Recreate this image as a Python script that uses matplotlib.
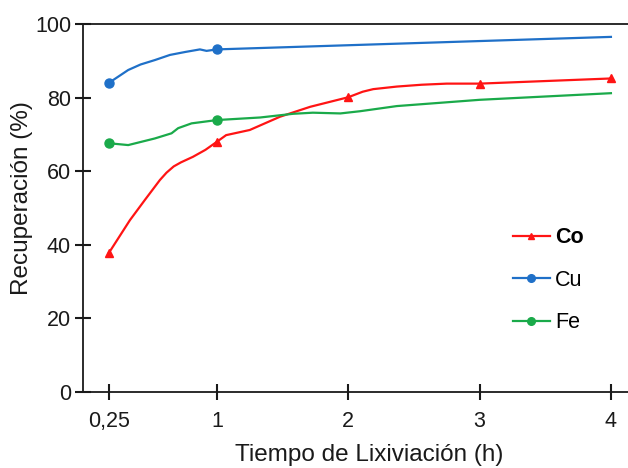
import numpy as np
import matplotlib
matplotlib.use("Agg")
import matplotlib.pyplot as plt

plt.rcParams['font.family'] = ['Liberation Sans', 'DejaVu Sans']

# leaching time (h) and recovery (%)
co_x = [0.25, 0.396, 0.5, 0.604, 0.65, 0.70, 0.75, 0.833, 0.92, 1.0, 1.07, 1.25, 1.48, 1.71,
        2.0, 2.11, 2.19, 2.37, 2.56, 2.75, 3.0, 4.0]
co_y = [37.8, 46.7, 52.2, 57.6, 59.6, 61.3, 62.4, 63.9, 65.8, 68.0, 69.8, 71.2, 74.8, 77.5,
        80.1, 81.6, 82.3, 83.0, 83.5, 83.8, 83.8, 85.2]
co_pts_x = [0.25, 1, 2, 3, 4]
co_pts_y = [37.8, 68.0, 80.1, 83.8, 85.2]

cu_x = [0.25, 0.384, 0.47, 0.569, 0.674, 0.78, 0.882, 0.928, 1.0, 4.0]
cu_y = [84.0, 87.5, 89.0, 90.2, 91.6, 92.4, 93.1, 92.7, 93.1, 96.5]
cu_pts_x = [0.25, 1]
cu_pts_y = [84.0, 93.1]

fe_x = [0.25, 0.384, 0.569, 0.685, 0.731, 0.824, 1.0, 1.33, 1.58, 1.73, 1.94, 2.09,
        2.37, 3.0, 4.0]
fe_y = [67.6, 67.1, 68.9, 70.3, 71.7, 73.0, 73.9, 74.6, 75.6, 75.9, 75.7, 76.3,
        77.7, 79.4, 81.2]
fe_pts_x = [0.25, 1]
fe_pts_y = [67.6, 73.9]

x_ticks = [0.25, 1, 2, 3, 4]
x_ticklabels = ["0,25", "1", "2", "3", "4"]
y_ticks = [0, 20, 40, 60, 80, 100]

RED = "#ff1414"
BLUE = "#1f70c8"
GREEN = "#1aaa4a"

# the first interval (0.25 -> 1) is drawn a bit wider than the rest
K = 1.0967
def fwd(x):
    x = np.asarray(x, float)
    return np.where(x < 1, 1 - (1 - x) * K, x)

def inv(p):
    p = np.asarray(p, float)
    return np.where(p < 1, 1 - (1 - p) / K, p)

fig = plt.figure(figsize=(6.28, 4.68), dpi=100)
ax = fig.add_axes([0.132, 0.1624, 0.868, 0.7863])
ax.set_xscale("function", functions=(fwd, inv))

lw = 1.6
ax.plot(co_x, co_y, color=RED, lw=lw)
ax.plot(co_pts_x, co_pts_y, ls="none", marker="^", ms=6, color=RED)
ax.plot(cu_x, cu_y, color=BLUE, lw=lw)
ax.plot(cu_pts_x, cu_pts_y, ls="none", marker="o", ms=6.5, color=BLUE)
ax.plot(fe_x, fe_y, color=GREEN, lw=lw)
ax.plot(fe_pts_x, fe_pts_y, ls="none", marker="o", ms=6.5, color=GREEN)

# legend proxies
h_co, = ax.plot([], [], color=RED, lw=lw, marker="^", ms=5, label="Co")
h_cu, = ax.plot([], [], color=BLUE, lw=lw, marker="o", ms=5.5, label="Cu")
h_fe, = ax.plot([], [], color=GREEN, lw=lw, marker="o", ms=5.5, label="Fe")
leg = ax.legend(handles=[h_co, h_cu, h_fe], loc="upper left",
                bbox_to_anchor=(0.786, 0.556), bbox_transform=fig.transFigure,
                frameon=False, fontsize=15.5, handlelength=1.7, handletextpad=0.25,
                labelspacing=1.0)
leg.get_texts()[0].set_fontweight("bold")

ax.set_xlim(0.0695, 4.13)
ax.set_ylim(0, 100)
ax.set_xticks(x_ticks)
ax.set_xticklabels(x_ticklabels)
ax.set_yticks(y_ticks)
ax.tick_params(axis="both", direction="inout", length=11, width=1.5,
               labelsize=15.5, colors="#1a1a1a")
ax.tick_params(axis="x", pad=8)
ax.tick_params(axis="y", pad=3)

for s in ["left", "bottom", "top"]:
    ax.spines[s].set_linewidth(1.3)
    ax.spines[s].set_color("#1a1a1a")
ax.spines["right"].set_visible(False)

ax.set_xlabel("Tiempo de Lixiviación (h)", fontsize=17.5, color="#1a1a1a")
ax.xaxis.set_label_coords(0.526, -0.142)
ax.set_ylabel("Recuperación (%)", fontsize=17.5, color="#1a1a1a")
ax.yaxis.set_label_coords(-0.092, 0.527)

fig.savefig("out.png", dpi=100)
